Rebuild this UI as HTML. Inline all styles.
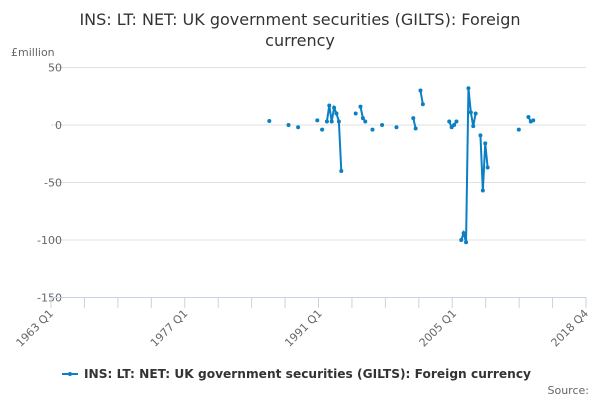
<!DOCTYPE html>
<html><head><meta charset="utf-8"><style>
body{margin:0;background:#fff;width:600px;height:400px;overflow:hidden;font-family:"DejaVu Sans","Liberation Sans",sans-serif}
svg text{font-family:"DejaVu Sans","Liberation Sans",sans-serif}
</style></head><body>
<svg id="c" width="600" height="400">
<text x="300" y="25" text-anchor="middle" font-size="16" fill="#333">INS: LT: NET: UK government securities (GILTS): Foreign</text>
<text x="300" y="46" text-anchor="middle" font-size="16" fill="#333">currency</text>
<text x="11" y="56" font-size="11" fill="#666">£million</text>
<g id="grid"></g><g id="xa"></g><g id="series"></g>
<g>
<line x1="62" y1="374" x2="78" y2="374" stroke="#0a7fc4" stroke-width="2"/><circle cx="70" cy="374" r="2" fill="#0a7fc4"/>
<text x="84" y="378" font-size="12.2" font-weight="bold" fill="#333" textLength="447" lengthAdjust="spacingAndGlyphs">INS: LT: NET: UK government securities (GILTS): Foreign currency</text></g>
<text x="589" y="394" text-anchor="end" font-size="11" fill="#666">Source:</text>
</svg>
<script>
const yTicks=[50,0,-50,-100,-150];
const xLabels=["1963 Q1","1977 Q1","1991 Q1","2005 Q1","2018 Q4"];
const xLabelYears=[1963,1977,1991,2005,2018.75];
const segYears=[[1985.75],[1987.75],[1988.75],[1990.75],[1991.25],
[1991.75,1992,1992.25,1992.5,1992.75,1993,1993.25],[1994.75],[1995.25,1995.5,1995.75],[1996.5],[1997.5],[1999],
[2000.75,2001],[2001.5,2001.75],[2004.5,2004.75,2005,2005.25],
[2005.75,2006,2006.25,2006.5,2006.75,2007,2007.25],[2007.75,2008,2008.25,2008.5],[2011.75],[2012.75,2013,2013.25]];
const segValues=[[3.5],[0],[-2],[4],[-4],
[3,17,3,15,10,3,-40],[10],[16,6,3],[-4],[0],[-2],
[6,-3],[30,18],[3,-2,0,3],
[-100,-94,-102,32,11,-1,10],[-9,-57,-16,-37],[-4],[7,3,4]];
const X0=51,X1=586,Y0=125,K=1.15;
const xs=y=>X0+(y-1963)/(2018.75-1963)*(X1-X0);
const ys=v=>Y0-v*K;
const NS="http://www.w3.org/2000/svg";
function mk(t,a,p){const e=document.createElementNS(NS,t);for(const k in a)e.setAttribute(k,a[k]);p.appendChild(e);return e;}
const g=document.getElementById('grid');
yTicks.forEach(v=>{
 if(v>-150){const l=mk('line',{x1:X0,x2:X1,y1:ys(v),y2:ys(v),stroke:'#e0e0e0'},g);
 
 }
 const t=mk('text',{x:62,y:ys(v)+4,'text-anchor':'end','font-size':11,fill:'#666'},g);t.textContent=v;
 
 
});
const xa=document.getElementById('xa');
const ax=mk('line',{x1:X0,x2:X1,y1:297.5,y2:297.5,stroke:'#c8d2e6'},xa);


for(let i=0;i<=16;i++){const x=X0+i*(X1-X0)/16;mk('line',{x1:x,x2:x,y1:297,y2:308,stroke:'#c8d2e6'},xa);}
xLabels.forEach((s,i)=>{const x=xs(xLabelYears[i]);
 const t=mk('text',{x:x+3,y:314,'text-anchor':'end','font-size':11,fill:'#666',transform:`rotate(-45 ${x+3} 314)`},xa);t.textContent=s;
 
 
});
const sg=document.getElementById('series');
segYears.forEach((yr,i)=>{
 const pts=yr.map((y,j)=>xs(y)+','+ys(segValues[i][j])).join(' ');
 if(yr.length>1){const p=mk('polyline',{points:pts,fill:'none',stroke:'#0a7fc4','stroke-width':2},sg);
 
 }
 yr.forEach((y,j)=>{const c=mk('circle',{cx:xs(y),cy:ys(segValues[i][j]),r:2,fill:'#0a7fc4'},sg);
 
 });
});
</script>
</body></html>
